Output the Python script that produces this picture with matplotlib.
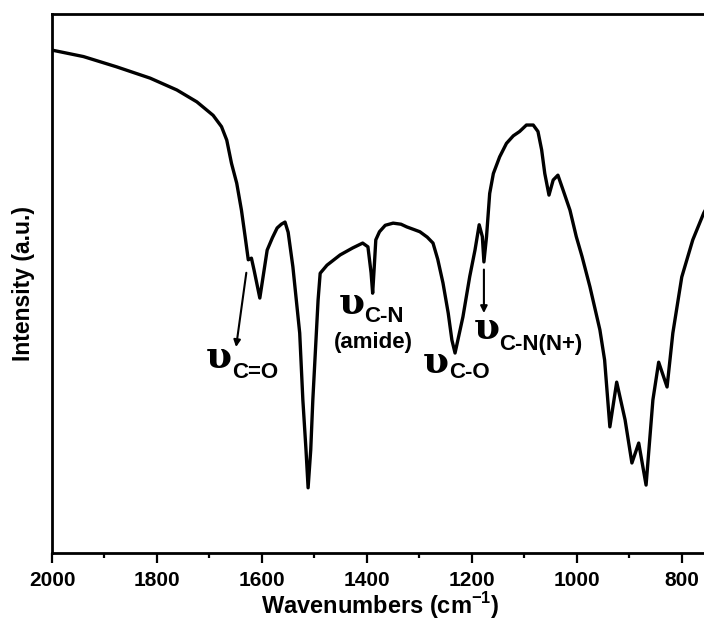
import matplotlib.pyplot as plt
import matplotlib
matplotlib.rcParams['font.family'] = ['Liberation Sans', 'DejaVu Sans']
matplotlib.rcParams['font.weight'] = 'bold'
matplotlib.rcParams['mathtext.fontset'] = 'custom'
matplotlib.rcParams['mathtext.bf'] = 'Liberation Sans:bold'

# FTIR spectrum (wavenumber, intensity in arbitrary units)
wavenumber = [2000, 1940, 1877, 1813, 1762, 1724, 1693, 1677, 1667, 1658, 1648, 1639,
              1632, 1626, 1620, 1615, 1604, 1590, 1580, 1571, 1563, 1556, 1550, 1541,
              1528, 1522, 1516, 1512, 1507, 1503, 1493, 1489, 1476, 1451, 1427, 1408,
              1398, 1392, 1389, 1386, 1383, 1376, 1365, 1350, 1335, 1324, 1310, 1299,
              1285, 1274, 1265, 1255, 1245, 1238, 1232, 1217, 1204, 1194, 1186, 1180,
              1177, 1172, 1166, 1159, 1147, 1134, 1121, 1109, 1096, 1083, 1074, 1067,
              1061, 1053, 1045, 1036, 1026, 1013, 1001, 990, 975, 956, 947, 937, 924,
              908, 895, 882, 868, 855, 844, 828, 817, 800, 779, 758, 750]
intensity = [93.3, 92.1, 90.2, 88.1, 85.9, 83.7, 81.2, 79.1, 76.6, 72.3, 68.6, 63.6,
             58.7, 54.4, 54.7, 52.5, 47.3, 56.2, 58.5, 60.3, 61.0, 61.4, 59.5, 53.1,
             40.8, 28.4, 19.1, 12.1, 19.1, 28.4, 46.9, 51.9, 53.4, 55.3, 56.6, 57.5,
             56.8, 52.0, 48.2, 53.0, 58.1, 59.6, 60.8, 61.2, 61.0, 60.5, 60.0, 59.6,
             58.6, 57.5, 54.5, 50.1, 44.5, 39.5, 37.1, 43.8, 51.3, 56.2, 60.9, 58.7,
             54.0, 58.7, 66.7, 70.4, 73.5, 76.0, 77.4, 78.2, 79.4, 79.4, 78.2, 74.8,
             70.4, 66.4, 69.2, 70.1, 67.3, 63.6, 58.7, 55.0, 49.4, 41.4, 35.8, 23.4,
             31.7, 24.7, 16.7, 20.4, 12.6, 28.4, 35.4, 30.8, 40.8, 51.2, 58.1, 63.1,
             64.5]

fig = plt.figure(figsize=(7.04, 6.21), dpi=100)
# axes runs slightly past the right edge, like the cropped original
ax = fig.add_axes([52 / 704, 68 / 621, 656 / 704, 539 / 621])
ax.plot(wavenumber, intensity, color='black', lw=2.4, solid_joinstyle='round')

ax.set_xlim(2000, 750)
ax.set_ylim(0, 100)
ax.set_xticks([2000, 1800, 1600, 1400, 1200, 1000, 800])
ax.set_xticks(range(1900, 749, -200), minor=True)
ax.set_yticks([])
ax.tick_params(axis='x', which='major', direction='out', length=7, width=1.6,
               labelsize=15, pad=6)
ax.tick_params(axis='x', which='minor', direction='out', length=3.5, width=1.6)
for lbl in ax.get_xticklabels():
    lbl.set_fontweight('bold')
for sp in ax.spines.values():
    sp.set_linewidth(2.0)

ax.set_xlabel('Wavenumbers (cm$^{\\mathbf{-1}}$)', fontsize=17, fontweight='bold', labelpad=0)
ax.set_ylabel('Intensity (a.u.)', fontsize=16.5, fontweight='bold', labelpad=12)

# peak labels
ups = dict(family=['DejaVu Serif'], fontsize=27, fontweight='bold', va='center', ha='left')
sub = dict(fontsize=16, fontweight='bold', va='center', ha='left')
arr = dict(arrowstyle='-|>', color='black', lw=1.5, mutation_scale=10)

ax.annotate('', xy=(1650, 37.7), xytext=(1629, 52.5), arrowprops=arr)
ax.text(1707, 36.2, 'υ', **ups)
ax.text(1657, 33.4, 'C=O', **sub)

ax.text(1454, 46.2, 'υ', **ups)
ax.text(1406, 43.8, 'C-N', **sub)
ax.text(1387, 39.1, '(amide)', fontsize=16, fontweight='bold', va='center', ha='center')

ax.text(1293, 35.3, 'υ', **ups)
ax.text(1244, 33.4, 'C-O', **sub)

ax.annotate('', xy=(1177, 44.0), xytext=(1177, 53.1), arrowprops=arr)
ax.text(1196, 41.6, 'υ', **ups)
ax.text(1148, 38.6, 'C-N(N+)', **sub)

plt.savefig('out.png', dpi=100)
plt.close()
